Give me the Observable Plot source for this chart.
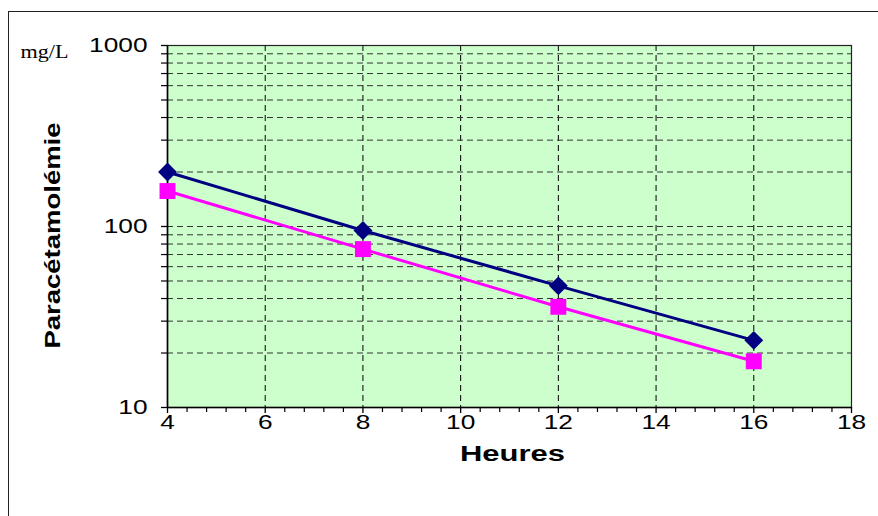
<!DOCTYPE html>
<html><head><meta charset="utf-8">
<script src="https://cdn.jsdelivr.net/npm/d3@7"></script>
<script src="https://cdn.jsdelivr.net/npm/@observablehq/plot@0.6"></script>
<style>
body{margin:0;background:#fff;}
#wrap{position:relative;width:878px;height:516px;overflow:hidden;}
#wrap svg{position:absolute;left:0;top:0;}
#border{position:absolute;left:8px;top:11px;width:900px;height:600px;border-left:1.5px solid #222;border-top:1.5px solid #222;pointer-events:none;z-index:2;}
</style></head><body><div id="wrap"><div id="border"></div></div>
<script>
const heures = [4, 8, 12, 16];
const serieBleue = [200, 95, 47, 23.5];
const serieRose = [157, 75, 36, 18];
const xTicks = [4, 6, 8, 10, 12, 14, 16, 18];
const xGrid = [6, 8, 10, 12, 14, 16];
const xMinor = [4.4, 4.8, 5.2, 5.6, 6.4, 6.8, 7.2, 7.6, 8.4, 8.8, 9.2, 9.6, 10.4, 10.8, 11.2, 11.6,
  12.4, 12.8, 13.2, 13.6, 14.4, 14.8, 15.2, 15.6, 16.4, 16.8, 17.2, 17.6];
const yTicks = [10, 100, 1000];
const yMinor = [20, 30, 40, 50, 60, 70, 80, 90, 200, 300, 400, 500, 600, 700, 800, 900];
const yGrid = [20, 30, 40, 50, 60, 70, 80, 90, 100, 200, 300, 400, 500, 600, 700, 800, 900];

const bleu = heures.map((h, i) => ({h, v: serieBleue[i]}));
const rose = heures.map((h, i) => ({h, v: serieRose[i]}));
const font = "'Liberation Sans', Arial, sans-serif";

const chart = Plot.plot({
  width: 878, height: 516,
  marginLeft: 167, marginRight: 27, marginTop: 45, marginBottom: 109,
  style: {fontFamily: font, fontSize: "21px", background: "transparent", color: "#000"},
  x: {domain: [4, 18]},
  y: {type: "log", domain: [10, 1000]},
  marks: [
    Plot.frame({fill: "#ccffcc"}),
    Plot.ruleX(xGrid, {stroke: "#000", strokeDasharray: "6,4", strokeWidth: 1}),
    Plot.ruleY(yGrid, {stroke: "#333", strokeDasharray: "6,4", strokeWidth: 1}),
    Plot.frame({stroke: "#222", strokeWidth: 1.2}),
    Plot.ruleX([4], {stroke: "#000", strokeWidth: 1.6}),
    Plot.ruleY([10], {stroke: "#000", strokeWidth: 1.6}),
    Plot.axisX({ticks: xTicks, tickSize: 6, tickPadding: 1, tickFormat: d => String(d), label: null, strokeWidth: 1.3}),
    Plot.axisX(xMinor, {tickSize: 5, tickFormat: () => "", label: null, strokeWidth: 1.2}),
    Plot.axisY({ticks: yTicks, tickSize: 6, tickPadding: 14, tickFormat: d => String(d), label: null, strokeWidth: 1.3}),
    Plot.axisY(yMinor, {tickSize: 6, tickFormat: () => "", label: null, strokeWidth: 1.2}),
    Plot.line(bleu, {x: "h", y: "v", stroke: "#000080", strokeWidth: 3}),
    Plot.line(rose, {x: "h", y: "v", stroke: "#ff00ff", strokeWidth: 3}),
    Plot.dot(bleu, {x: "h", y: "v", symbol: "diamond2", r: 8.5, fill: "#000080", stroke: "none"}),
    Plot.dot(rose, {x: "h", y: "v", symbol: "square", r: 9, fill: "#ff00ff", stroke: "none"}),
    Plot.text(["mg/L"], {frameAnchor: "top-left", dx: -147, dy: -1, textAnchor: "start", fontFamily: "'Liberation Serif', 'Times New Roman', serif", fontSize: 19, fill: "#000", className: "t-mgl"}),
    Plot.text(["Paracétamolémie"], {frameAnchor: "left", textAnchor: "middle", dx: -115, dy: 9, rotate: -90, fontWeight: "bold", fontSize: 22, fill: "#000", className: "t-ylab"}),
    Plot.text(["Heures"], {frameAnchor: "bottom", textAnchor: "middle", dx: 3, dy: 53, fontWeight: "bold", fontSize: 22, fill: "#000", className: "t-xlab"})
  ]
});
document.getElementById("wrap").prepend(chart);

// Horizontal stretch of text, as in the original picture
const stretch = 1.25;
const fixed = {"t-mgl": 48, "t-ylab": 226, "t-xlab": 105};
chart.querySelectorAll("text").forEach(t => {
  const txt = t.textContent;
  if (!txt) return;
  let target = null;
  for (const k in fixed) if (t.closest("." + k)) target = fixed[k];
  const w = t.getComputedTextLength();
  if (!w) return;
  t.setAttribute("textLength", target ?? w * stretch);
  t.setAttribute("lengthAdjust", "spacingAndGlyphs");
});
</script></body></html>
